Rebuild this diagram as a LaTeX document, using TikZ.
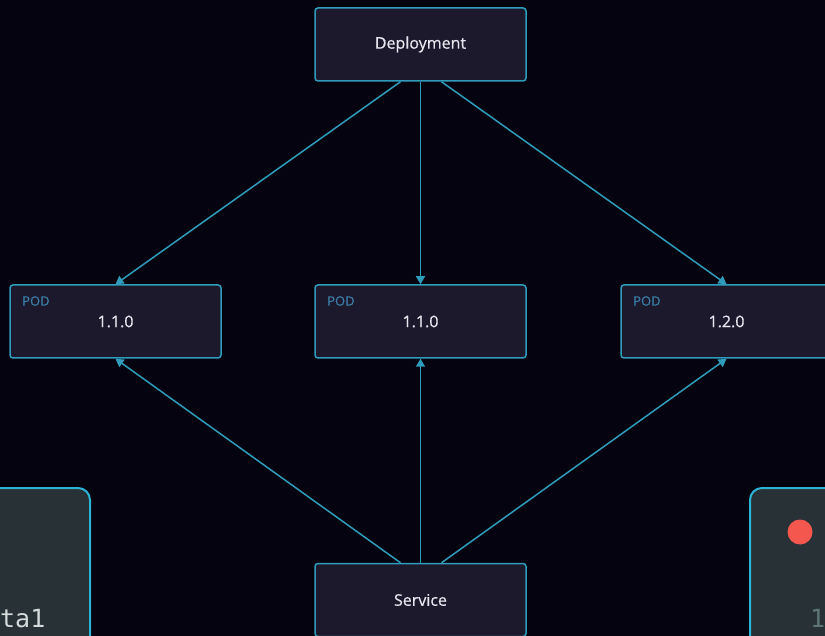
\documentclass[tikz,border=0pt]{standalone}
\usepackage{fontspec}
\setmainfont{Open Sans}
\newfontfamily\boxfont[FakeBold=0.5]{Open Sans}
\setmonofont{DejaVu Sans Mono}
\usetikzlibrary{arrows.meta}

\newlength{\du}
\setlength{\du}{1pt}

\definecolor{bgcolor}{HTML}{05030F}
\definecolor{boxfill}{HTML}{1C192D}
\definecolor{boxline}{HTML}{2E9CBA}
\definecolor{podlabel}{HTML}{3B7EA6}
\definecolor{textcolor}{HTML}{E6E6EE}
\definecolor{panelfill}{HTML}{283236}
\definecolor{panelline}{HTML}{2BB4D6}
\definecolor{dotred}{HTML}{F4574E}
\definecolor{paneltext}{HTML}{D4D9DA}
\definecolor{paneldim}{HTML}{5E7676}

\tikzset{
  kbox/.style={draw=boxline, fill=boxfill, line width=1.5\du, rounded corners=3\du,
    minimum width=211\du, minimum height=73\du, inner sep=0pt, text=textcolor,
    font=\boxfont\fontsize{16}{19}\selectfont},
  podtag/.style={anchor=west, text=podlabel, font=\boxfont\fontsize{13}{15}\selectfont, inner sep=0pt},
  link/.style={draw=boxline, line width=1.5\du, -{Triangle[length=8pt,width=9pt]}},
  panel/.style={draw=panelline, fill=panelfill, line width=2\du, rounded corners=12\du},
}

\begin{document}
\begin{tikzpicture}
\pgftransformxscale{1.000000}
\pgftransformyscale{-1.000000}
\fill[bgcolor] (0\du,0\du) rectangle (825\du,636\du);
\useasboundingbox (0\du,0\du) rectangle (825\du,636\du);
\clip (0\du,0\du) rectangle (825\du,636\du);
% terminal panels at the bottom corners
\draw[panel] (-40\du,488\du) rectangle (90\du,680\du);
\node[anchor=base west, inner sep=0pt, text=paneltext, font=\ttfamily\fontsize{25}{30}\selectfont] (termleft) at (0\du,627\du){ta1};
\draw[panel] (750\du,488\du) rectangle (900\du,680\du);
\fill[dotred] (800\du,532\du) circle (12.5\du);
\node[anchor=base west, inner sep=0pt, text=paneldim, font=\ttfamily\fontsize{25}{30}\selectfont] (termright) at (810\du,627\du){1};
% deployment and pods
\node[kbox] (deploy) at (420.5\du,44.5\du){\raisebox{-1pt}{Deployment}};
\node[kbox] (podA) at (115.5\du,321.5\du){1.1.0};
\node[kbox] (podB) at (420.5\du,321.5\du){1.1.0};
\node[kbox] (podC) at (726.5\du,321.5\du){1.2.0};
\node[podtag] (tagA) at (22\du,301\du){POD};
\node[podtag] (tagB) at (327\du,301\du){POD};
\node[podtag] (tagC) at (633\du,301\du){POD};
% service
\node[kbox] (service) at (420.5\du,600\du){Service};
% links
\draw[link] ([xshift=-20pt]deploy.south) -- (podA.north);
\draw[link] (deploy.south) -- (podB.north);
\draw[link] ([xshift=21pt]deploy.south) -- (podC.north);
\draw[link] ([xshift=-20pt]service.north) -- (podA.south);
\draw[link] (service.north) -- (podB.south);
\draw[link] ([xshift=21pt]service.north) -- (podC.south);
\end{tikzpicture}
\end{document}
